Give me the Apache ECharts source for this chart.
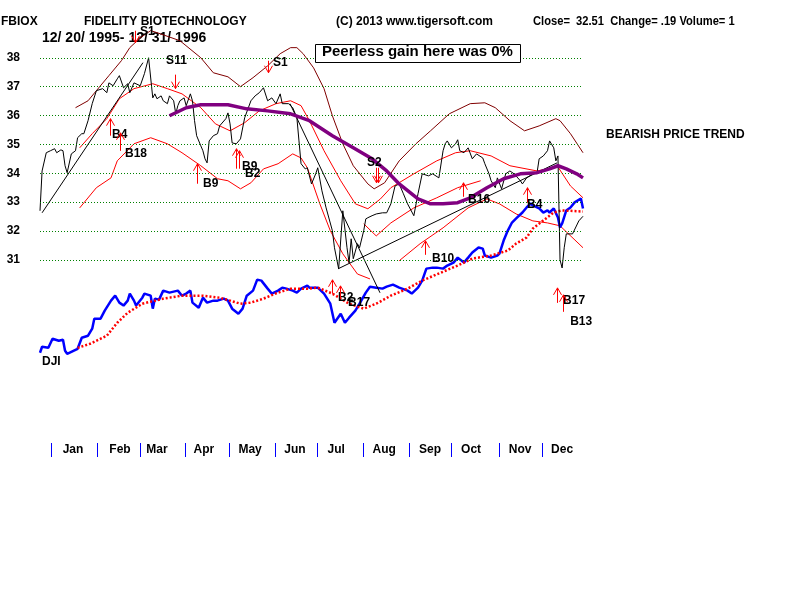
<!DOCTYPE html>
<html>
<head>
<meta charset="utf-8">
<script src="https://cdn.jsdelivr.net/npm/echarts@6/dist/echarts.min.js"></script>
<style>
html, body { margin: 0; padding: 0; background: #fff; }
#chart { width: 800px; height: 600px; }
</style>
</head>
<body>
<div id="chart"></div>
<script>
// x = trading day since 12/20/1995, y = price of FBIOX
const price = [[0,32.70],[1,34.08],[3,34.71],[5,34.78],[7,34.85],[8,34.71],[10,34.81],[11,34.78],[12,34.26],[13,34.02],[15,34.67],[17,34.78],[18,35.23],[20,35.37],[21,35.37],[23,35.82],[25,36.41],[27,36.86],[30,36.93],[32,36.79],[33,37.13],[35,37.03],[37,37.27],[38,37.38],[40,36.96],[42,37.10],[43,36.79],[45,37.13],[48,37.03],[50,37.45],[52,38.00],[54,36.61],[55,36.75],[56,36.58],[58,36.68],[59,36.51],[61,36.41],[62,36.68],[64,36.51],[65,36.06],[66,36.34],[67,36.51],[69,36.61],[70,36.34],[72,36.75],[73,36.51],[74,35.82],[75,35.30],[77,34.95],[78,34.78],[79,34.50],[80,34.36],[81,35.12],[83,35.30],[85,35.37],[86,35.64],[89,35.89],[90,36.09],[91,35.71],[92,35.05],[94,35.02],[96,35.19],[98,35.92],[101,36.51],[103,36.68],[105,36.79],[107,36.96],[109,36.51],[111,36.61],[113,36.41],[115,36.75],[116,36.41],[119,36.41],[121,36.27],[123,35.92],[124,35.12],[125,34.33],[127,34.15],[128,34.19],[130,33.63],[132,33.98],[133,34.19],[135,33.39],[137,32.80],[140,32.01],[141,31.42],[143,30.69],[145,32.70],[147,31.42],[148,30.90],[149,31.73],[150,31.04],[152,31.56],[153,31.42],[155,32.01],[156,32.42],[157,32.46],[159,32.53],[161,32.59],[164,32.63],[166,32.63],[168,32.94],[170,33.56],[172,33.63],[174,33.29],[176,32.94],[179,32.53],[181,33.29],[183,33.98],[186,33.91],[188,33.98],[191,33.84],[193,34.78],[194,35.02],[195,35.12],[197,34.88],[199,35.02],[200,35.16],[201,34.78],[203,34.71],[205,34.88],[207,34.50],[209,34.67],[212,34.53],[213,34.33],[215,33.98],[216,33.74],[218,33.50],[219,33.84],[221,33.46],[223,33.98],[225,34.08],[227,33.98],[230,33.74],[231,33.63],[233,33.84],[236,33.98],[238,34.02],[239,34.50],[241,34.60],[243,34.78],[244,35.12],[246,34.88],[247,34.43],[248,34.60],[249,31.00],[250,30.72],[251,31.42],[252,31.90],[255,31.90],[258,32.35],[260,32.51]];

const upperBand = [[17,36.27],[23,36.51],[27,36.86],[33,37.38],[39,37.90],[43,38.35],[48,38.69],[53,38.94],[56,38.87],[67,38.59],[77,38.00],[83,37.48],[90,37.34],[96,37.00],[102,37.31],[109,37.72],[115,38.14],[120,38.35],[123,38.35],[126,38.14],[131,37.65],[136,36.93],[140,35.99],[145,35.02],[150,34.26],[157,33.63],[160,33.46],[165,33.67],[172,34.43],[180,35.02],[187,35.47],[196,36.06],[206,36.41],[213,36.44],[218,36.27],[225,35.82],[232,35.47],[239,35.64],[247,35.89],[249,35.82],[254,35.37],[260,34.71]];

const redUpper = [[19,34.88],[25,35.37],[32,35.89],[38,36.58],[45,36.93],[54,37.10],[61,36.93],[68,36.75],[77,36.27],[84,35.71],[91,35.47],[98,35.75],[105,36.16],[113,36.41],[120,36.51],[125,36.34],[129,35.82],[136,34.78],[144,33.74],[151,32.94],[157,32.77],[163,33.11],[168,33.50],[179,33.98],[190,34.43],[199,34.71],[206,34.78],[216,34.60],[225,34.26],[238,34.08],[248,34.22],[254,33.56],[260,33.15]];

const redMiddle = [[155,32.25],[161,31.83],[168,32.28],[179,32.80],[190,33.15],[200,33.50],[211,33.74]];

const redLower = [[19,32.80],[27,33.50],[34,33.84],[37,34.43],[45,35.02],[53,35.23],[61,35.02],[68,34.71],[77,34.26],[85,33.81],[90,33.74],[96,33.46],[101,33.67],[107,34.15],[114,34.33],[121,34.67],[125,34.53],[128,34.19],[134,32.94],[139,32.01],[145,31.21],[152,30.51],[158,30.34],null,[172,30.97],[182,31.56],[193,32.11],[205,32.80],[214,33.11],[220,32.94],[228,32.59],[236,32.35],[243,32.28],[249,32.18],[260,31.42]];

const purpleMA = [[62,35.99],[70,36.27],[77,36.37],[90,36.37],[99,36.23],[109,36.16],[120,36.06],[129,35.82],[140,35.30],[150,34.88],[159,34.50],[166,34.08],[172,33.63],[181,33.11],[187,32.94],[193,32.94],[200,32.98],[206,33.15],[214,33.50],[222,33.81],[230,33.98],[238,34.02],[244,34.15],[248,34.26],[252,34.15],[257,33.98],[260,33.84]];

const trend1 = [[1.0,32.63],[49.3,37.83]];
const trend2 = [[119.7,36.41],[162.8,29.86]];
const trend3 = [[142.7,30.69],[247.6,34.36]];

const dji = [[0,5093],[1,5148],[4,5138],[6,5221],[9,5202],[11,5211],[12,5111],[13,5084],[16,5111],[18,5129],[20,5230],[23,5248],[25,5312],[26,5403],[29,5403],[31,5476],[34,5567],[36,5612],[38,5549],[40,5522],[42,5567],[43,5631],[45,5567],[46,5522],[49,5594],[50,5631],[53,5612],[54,5494],[55,5585],[57,5576],[59,5658],[62,5640],[66,5658],[68,5612],[70,5631],[72,5658],[73,5549],[76,5503],[78,5594],[80,5549],[83,5567],[85,5567],[88,5585],[90,5567],[92,5494],[95,5448],[97,5494],[99,5612],[102,5658],[104,5758],[106,5749],[109,5676],[111,5631],[114,5658],[116,5685],[118,5676],[121,5658],[123,5640],[125,5676],[128,5703],[129,5685],[133,5685],[136,5631],[139,5539],[141,5366],[144,5448],[146,5366],[148,5412],[151,5476],[153,5539],[156,5640],[158,5694],[161,5685],[164,5676],[166,5694],[169,5712],[172,5685],[176,5658],[178,5631],[181,5685],[183,5749],[185,5858],[188,5867],[190,5867],[193,5858],[195,5886],[198,5913],[200,5958],[203,5913],[205,5958],[207,6004],[210,6050],[212,6040],[213,5977],[216,5958],[219,5977],[220,5995],[222,6113],[224,6204],[226,6277],[228,6314],[231,6368],[233,6414],[235,6450],[236,6432],[239,6405],[241,6368],[243,6387],[244,6368],[246,6405],[248,6323],[249,6232],[250,6268],[252,6387],[254,6414],[256,6460],[259,6496],[260,6405]];

const djiMA = [[18,5138],[24,5175],[32,5248],[37,5366],[42,5457],[49,5539],[59,5585],[68,5612],[78,5612],[86,5594],[91,5567],[96,5539],[101,5549],[107,5585],[114,5640],[120,5676],[128,5676],[133,5685],[140,5631],[148,5539],[155,5494],[161,5539],[168,5612],[176,5676],[183,5749],[192,5822],[200,5886],[207,5949],[216,5977],[224,6022],[228,6086],[233,6141],[236,6223],[241,6296],[246,6368],[250,6387],[260,6377]];

// Peerless signals
const sigDay   = [33.5, 38.3, 75.2, 93.9, 95.3, 202.6, 233.2, 184.4, 139.8, 143.7, 247.6, 250.5, 45.5, 64.7, 109.2, 160.9, 161.9];
const sigPrice = [35.89, 35.40, 34.33, 34.85, 34.78, 33.67, 33.50, 31.66, 30.31, 30.10, 30.03, 29.79, 38.52, 36.93, 37.48, 33.67, 33.67];
const sigText  = ['B4', 'B18', 'B9', 'B9', 'B2', 'B16', 'B4', 'B10', 'B2', 'B17', 'B17', 'B13', 'S1', 'S11', 'S1', 'S2', ''];
const sigDir   = [1, 1, 1, 1, 1, 1, 1, 1, 1, 1, 1, 1, -1, -1, -1, -1, -1];
// arrow length and label offset (px)
const sigLen = [17, 18, 20, 20, 18, 14, 15, 14, 14, 13, 15, 17, 12, 14, 12, 15, 15];
const sigDx  = [2, 5, 6, 6, 6, 5, 0, 7, 6, 8, 6, 7, 5, -9, 5, -9, 0];
const sigDy  = [16, 21, 20, 18, 23, 17, 17, 18, 18, 17, 13, 27, -11, -28, -10, -20, 0];

const gridLevels = [31, 32, 33, 34, 35, 36, 37, 38];
const monthNames = ['Jan', 'Feb', 'Mar', 'Apr', 'May', 'Jun', 'Jul', 'Aug', 'Sep', 'Oct', 'Nov', 'Dec'];
const monthStart = [5.3, 27.3, 47.9, 69.4, 90.5, 112.5, 132.7, 154.7, 176.7, 196.8, 219.8, 240.4];
const monthMid   = [15.8, 38.3, 56.0, 78.5, 100.6, 122.1, 141.8, 164.8, 186.8, 206.4, 229.9, 250.0];

const FONT = '"Liberation Sans", Arial, sans-serif';

const myChart = echarts.init(document.getElementById('chart'));

function renderSignal(params, api) {
  const i = api.value(2);
  const p = api.coord([api.value(0), api.value(1)]);
  const d = sigDir[i];
  const x = Math.round(p[0]) + 0.5;
  const y = p[1];
  return {
    type: 'group',
    children: [
      { type: 'line', shape: { x1: x, y1: y, x2: x, y2: y + d * sigLen[i] },
        style: { stroke: '#ff0000', lineWidth: 1 } },
      { type: 'polyline', shape: { points: [[x - 4, y + d * 7], [x, y], [x + 4, y + d * 7]] },
        style: { stroke: '#ff0000', fill: null, lineWidth: 1 } },
      { type: 'text', style: { text: sigText[i], x: p[0] + sigDx[i], y: y + sigDy[i],
        fill: '#000', fontSize: 12, fontWeight: 'bold', fontFamily: FONT,
        align: 'left', verticalAlign: 'middle' } }
    ]
  };
}

// blue month separators on the date strip
function renderMonthTick(params, api) {
  const top = api.coord([api.value(0), 1]);
  const bottom = api.coord([api.value(0), 0]);
  const x = Math.round(top[0]) + 0.5;
  return { type: 'line', shape: { x1: x, y1: top[1], x2: x, y2: bottom[1] },
    style: { stroke: '#0000ff', lineWidth: 1 } };
}

function lineSeries(name, data, color, width, extra) {
  return Object.assign({
    name: name, type: 'line', data: data, showSymbol: false, symbol: 'none',
    lineStyle: { color: color, width: width }, connectNulls: false, z: 3
  }, extra || {});
}

var option = {
  animation: false,
  backgroundColor: '#fff',
  grid: [
    { left: 40, width: 543, top: 0, height: 462 },
    { left: 40, width: 543, top: 443, height: 14 }
  ],
  xAxis: [
    { type: 'value', gridIndex: 0, min: 0, max: 260, show: false },
    {
      type: 'value', gridIndex: 1, min: 0, max: 260,
      axisLine: { show: false },
      splitLine: { show: false },
      axisTick: { show: false },
      axisLabel: { show: true, inside: true, margin: 1, customValues: monthMid,
        formatter: function (v) {
          const k = monthMid.indexOf(v);
          return k >= 0 ? monthNames[k] : '';
        },
        color: '#000', fontSize: 12, fontWeight: 'bold', fontFamily: FONT }
    }
  ],
  yAxis: [
    {
      type: 'value', gridIndex: 0, min: 24, max: 40, interval: 1,
      axisLine: { show: false }, axisTick: { show: false }, splitLine: { show: false },
      axisLabel: { margin: 20, color: '#000', fontSize: 12, fontWeight: 'bold', fontFamily: FONT,
        formatter: function (v) { return gridLevels.indexOf(v) >= 0 ? String(v) : ''; } }
    },
    { type: 'value', gridIndex: 0, min: 4100, max: 8300, show: false },
    { type: 'value', gridIndex: 1, min: 0, max: 1, show: false }
  ],
  graphic: [
    { type: 'text', left: 1, top: 16, style: { text: 'FBIOX', fill: '#000', font: 'bold 12px ' + FONT } },
    { type: 'text', left: 84, top: 16, style: { text: 'FIDELITY BIOTECHNOLOGY', fill: '#000', font: 'bold 12px ' + FONT } },
    { type: 'text', left: 336, top: 16, style: { text: '(C) 2013 www.tigersoft.com', fill: '#000', font: 'bold 12px ' + FONT } },
    { type: 'text', x: 533, y: 16, scaleX: 0.93, style: { text: 'Close=  32.51  Change= .19 Volume= 1', fill: '#000', font: 'bold 12px ' + FONT, verticalAlign: 'top' } },
    { type: 'text', left: 42, top: 31, style: { text: '12/ 20/ 1995- 12/ 31/ 1996', fill: '#000', font: 'bold 14px ' + FONT } },
    { type: 'rect', left: 315, top: 44, shape: { width: 205, height: 18 }, z: 100,
      style: { fill: '#fff', stroke: '#000', lineWidth: 1 } },
    { type: 'text', left: 322, top: 44, z: 101, style: { text: 'Peerless gain here was 0%', fill: '#000', font: 'bold 15px ' + FONT } },
    { type: 'text', left: 606, top: 129, style: { text: 'BEARISH PRICE TREND', fill: '#000', font: 'bold 12px ' + FONT } },
    { type: 'text', left: 42, top: 356, style: { text: 'DJI', fill: '#000', font: 'bold 12px ' + FONT } }
  ],
  series: [
    {
      type: 'line', data: [], xAxisIndex: 0, yAxisIndex: 0,
      markLine: {
        silent: true, symbol: 'none', label: { show: false },
        lineStyle: { color: '#008000', type: [1, 2], width: 1 },
        data: gridLevels.map(v => ({ yAxis: v }))
      }
    },
    lineSeries('upper', upperBand, '#800000', 1),
    lineSeries('redUpper', redUpper, '#ff0000', 1),
    lineSeries('redMiddle', redMiddle, '#ff0000', 1),
    lineSeries('redLower', redLower, '#ff0000', 1),
    lineSeries('dji', dji, '#0000ff', 2.5, { yAxisIndex: 1 }),
    lineSeries('djiMA', djiMA, '#ff0000', 3, { yAxisIndex: 1, lineStyle: { color: '#ff0000', width: 2.5, type: [2, 2] } }),
    lineSeries('t1', trend1, '#000', 1),
    lineSeries('t2', trend2, '#000', 1),
    lineSeries('t3', trend3, '#000', 1),
    lineSeries('price', price, '#000', 1, { z: 4 }),
    lineSeries('ma', purpleMA, '#800080', 3.5, { z: 5 }),
    {
      type: 'custom', renderItem: renderSignal, xAxisIndex: 0, yAxisIndex: 0, z: 6, clip: false,
      encode: { x: 0, y: 1 },
      data: sigDay.map((d, i) => [d, sigPrice[i], i])
    },
    {
      type: 'custom', renderItem: renderMonthTick, xAxisIndex: 1, yAxisIndex: 2, clip: false,
      encode: { x: 0 },
      data: monthStart.map(d => [d])
    }
  ]
};

myChart.setOption(option);
</script>
</body>
</html>
